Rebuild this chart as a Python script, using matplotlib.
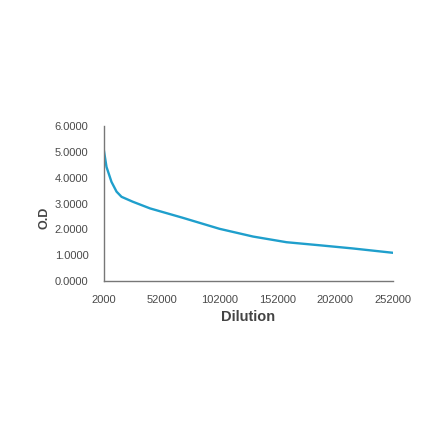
import matplotlib.pyplot as plt

plt.rcParams["font.family"] = ["Liberation Sans", "DejaVu Sans"]

dilution = [2000, 4300, 8600, 13000, 17300, 27000, 42000, 70000,
            102000, 131000, 160000, 189000, 217000, 252000]
od = [5.07, 4.42, 3.84, 3.46, 3.26, 3.07, 2.81, 2.45,
      2.02, 1.72, 1.50, 1.38, 1.26, 1.09]

x_ticks = [2000, 52000, 102000, 152000, 202000, 252000]
y_ticks = [0, 1, 2, 3, 4, 5, 6]

fig = plt.figure(figsize=(4.4, 4.41), dpi=100)
ax = fig.add_axes([0.236, 0.363, 0.657, 0.351])
ax.plot(dilution, od, color="#1f9fcc", linewidth=1.7)

ax.set_xlim(2000, 252000)
ax.set_ylim(0, 6)
ax.set_xticks(x_ticks)
ax.set_xticklabels([str(t) for t in x_ticks])
ax.set_yticks(y_ticks)
ax.set_yticklabels([f"{t:.4f}" for t in y_ticks])
ax.tick_params(length=0, labelsize=8, labelcolor="#4a4a4a")
ax.tick_params(axis="y", pad=11)
ax.tick_params(axis="x", pad=10)

for side in ["top", "right"]:
    ax.spines[side].set_visible(False)
for side in ["left", "bottom"]:
    ax.spines[side].set_color("#777777")
    ax.spines[side].set_linewidth(1.0)

ax.set_xlabel("Dilution", fontsize=10.5, fontweight="bold", color="#444444", labelpad=4)
ax.set_ylabel("O.D", fontsize=9, fontweight="bold", color="#444444")
ax.yaxis.set_label_coords(-0.183, 0.406)

fig.savefig("out.png", dpi=100)
